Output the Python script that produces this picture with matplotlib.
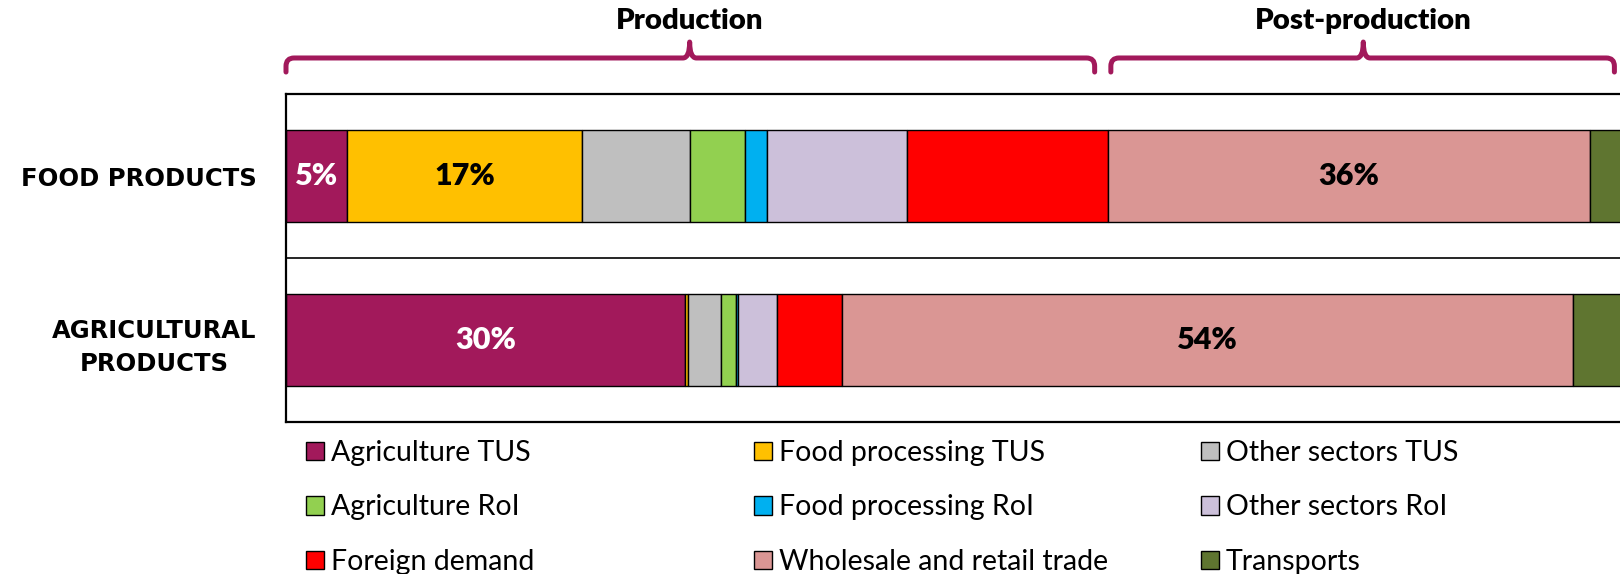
import matplotlib
matplotlib.use('Agg')
import matplotlib.pyplot as plt
import numpy as np
from matplotlib.patches import Patch, PathPatch
from matplotlib.path import Path
from matplotlib.transforms import ScaledTranslation

plt.rcParams['font.family'] = ['Lato', 'DejaVu Sans']

# data (shares in %)
categories = ['FOOD PRODUCTS', 'AGRICULTURAL\nPRODUCTS']
series = ['Agriculture TUS', 'Food processing TUS', 'Other sectors TUS',
          'Agriculture RoI', 'Food processing RoI', 'Other sectors RoI',
          'Foreign demand', 'Wholesale and retail trade', 'Transports']
food_products = [4.52, 17.44, 7.95, 4.07, 1.65, 10.37, 14.89, 35.68, 3.43]
agri_products = [29.56, 0.24, 2.40, 1.11, 0.19, 2.84, 4.81, 54.22, 4.63]
labelled = ['Agriculture TUS', 'Food processing TUS', 'Wholesale and retail trade']

colors = ['#A2195B', '#FFC000', '#BFBFBF',
          '#92D050', '#00B0F0', '#CCC0DA',
          '#FF0000', '#DA9694', '#5F7530']
label_colors = {'Agriculture TUS': 'white'}

values = np.array([food_products, agri_products])

fig = plt.figure(figsize=(16.2, 5.74), dpi=100)
ax = fig.add_axes([286 / 1620, 152 / 574, 1350 / 1620, 328 / 574])

ypos = np.arange(len(categories))
left = np.zeros(len(categories))
for i, name in enumerate(series):
    v = values[:, i]
    bars = ax.barh(ypos, v, left=left, height=0.56, color=colors[i],
                   edgecolor='black', linewidth=1.0)
    if name in labelled:
        for b, val in zip(bars, v):
            if val < 2:
                continue
            ax.text(b.get_x() + b.get_width() / 2, b.get_y() + b.get_height() / 2,
                    '{:.0f}%'.format(val), ha='center', va='center',
                    fontsize=22, fontweight='heavy',
                    color=label_colors.get(name, 'black'))
    left += v

ax.set_xlim(0, 100)
ax.set_ylim(1.5, -0.5)
ax.axhline(0.5, color='black', linewidth=1.2)
ax.set_xticks([])
ax.set_yticks(ypos)
ax.set_yticklabels(categories, fontfamily='DejaVu Sans', fontweight='bold', fontsize=17.5)
for t in ax.get_yticklabels():
    t.set_multialignment('center')
    t.set_linespacing(1.5)
    if '\n' in t.get_text():
        # nudge the two-line label up a little, like the original
        t.set_transform(t.get_transform() + ScaledTranslation(0, 4 / 72, fig.dpi_scale_trans))
ax.tick_params(axis='y', length=0, pad=21)
for s in ['top', 'bottom', 'left']:
    ax.spines[s].set_linewidth(1.6)
ax.spines['right'].set_visible(False)


# curly braces above the bars
def brace(x0, x1, xc, text):
    yl, ym, yp = 1.067, 1.1098, 1.1585
    rx, ry = 0.6, 0.025
    verts = [(x0, yl), (x0, ym - ry), (x0, ym), (x0 + rx, ym),
             (xc - 0.5, ym), (xc, ym), (xc, yp), (xc, ym), (xc + 0.5, ym),
             (x1 - rx, ym), (x1, ym), (x1, ym - ry), (x1, yl)]
    codes = [Path.MOVETO, Path.LINETO, Path.CURVE3, Path.CURVE3,
             Path.LINETO, Path.CURVE3, Path.CURVE3, Path.CURVE3, Path.CURVE3,
             Path.LINETO, Path.CURVE3, Path.CURVE3, Path.LINETO]
    p = PathPatch(Path(verts, codes), transform=ax.get_xaxis_transform(),
                  facecolor='none', edgecolor='#A2195B', linewidth=3.6,
                  capstyle='round', joinstyle='round', clip_on=False)
    ax.add_patch(p)
    ax.text(xc, 1.198, text, transform=ax.get_xaxis_transform(),
            ha='center', va='baseline', fontsize=21.2, fontweight='heavy')


brace(0.0, 59.9, 29.9, 'Production')
brace(61.1, 98.4, 79.8, 'Post-production')

# legend, three columns placed by hand
col_x = [306, 754, 1201]
for c in range(3):
    idx = [c, c + 3, c + 6]
    handles = [Patch(facecolor=colors[i], edgecolor='black', linewidth=1.0) for i in idx]
    leg = fig.legend(handles, [series[i] for i in idx], loc='upper left',
                     bbox_to_anchor=(col_x[c] / 1620, (574 - 440) / 574),
                     frameon=False, fontsize=20.5, borderpad=0, borderaxespad=0,
                     handlelength=0.63, handleheight=0.63, handletextpad=0.25,
                     labelspacing=1.0)

fig.savefig('out.png', dpi=100)
